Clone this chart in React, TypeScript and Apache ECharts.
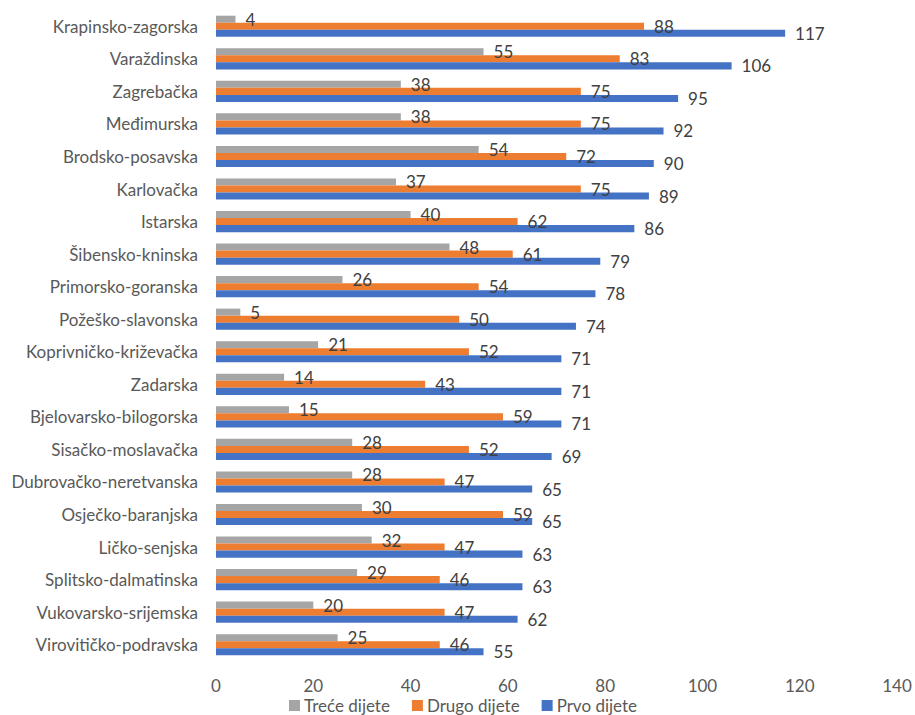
import React, { useEffect, useRef } from "react";
import * as echarts from "echarts";

const categories = [
  "Krapinsko-zagorska",
  "Varaždinska",
  "Zagrebačka",
  "Međimurska",
  "Brodsko-posavska",
  "Karlovačka",
  "Istarska",
  "Šibensko-kninska",
  "Primorsko-goranska",
  "Požeško-slavonska",
  "Koprivničko-križevačka",
  "Zadarska",
  "Bjelovarsko-bilogorska",
  "Sisačko-moslavačka",
  "Dubrovačko-neretvanska",
  "Osječko-baranjska",
  "Ličko-senjska",
  "Splitsko-dalmatinska",
  "Vukovarsko-srijemska",
  "Virovitičko-podravska",
];

const treceDijete = [4, 55, 38, 38, 54, 37, 40, 48, 26, 5, 21, 14, 15, 28, 28, 30, 32, 29, 20, 25];
const drugoDijete = [88, 83, 75, 75, 72, 75, 62, 61, 54, 50, 52, 43, 59, 52, 47, 59, 47, 46, 47, 46];
const prvoDijete = [117, 106, 95, 92, 90, 89, 86, 79, 78, 74, 71, 71, 71, 69, 65, 65, 63, 63, 62, 55];

const seriesNames = ["Treće dijete", "Drugo dijete", "Prvo dijete"];
const seriesColors = ["#A5A5A5", "#ED7D31", "#4472C4"];
const xTicks = { min: 0, max: 140, interval: 20 };

const FONT = "Lato";
const FS = 17;

export default function App() {
  const ref = useRef<HTMLDivElement>(null);
  useEffect(() => {
    if (!ref.current) return;
    const chart = echarts.init(ref.current, undefined, { renderer: "svg" });
    const datasets = [treceDijete, drugoDijete, prvoDijete];
    chart.setOption({
      animation: false,
      textStyle: { fontFamily: FONT },
      grid: { left: 216, right: 18, top: 10, bottom: 54, containLabel: false },
      legend: {
        top: 697,
        left: 289,
        padding: 0,
        itemWidth: 11,
        itemHeight: 11,
        itemGap: 22,
        icon: "rect",
        textStyle: {
          fontFamily: FONT,
          fontSize: FS,
          lineHeight: 17,
          color: "#595959",
          padding: [0, 0, 0, -1],
        },
        data: seriesNames,
      },
      xAxis: {
        type: "value",
        min: xTicks.min,
        max: xTicks.max,
        interval: xTicks.interval,
        axisLine: { show: false },
        axisTick: { show: false },
        splitLine: { show: false },
        axisLabel: { fontFamily: FONT, fontSize: FS, lineHeight: 16, color: "#595959", margin: 16 },
      },
      yAxis: {
        type: "category",
        inverse: true,
        data: categories,
        axisLine: { show: false },
        axisTick: { show: false },
        axisLabel: { fontFamily: FONT, fontSize: FS, color: "#595959", margin: 18 },
      },
      series: datasets.map((d, i) => ({
        name: seriesNames[i],
        type: "bar",
        data: d,
        barGap: "0%",
        barCategoryGap: "35%",
        itemStyle: { color: seriesColors[i] },
        label: {
          show: true,
          position: "right",
          distance: 10,
          fontFamily: FONT,
          fontSize: FS,
          color: "#404040",
        },
      })),
    });
    return () => chart.dispose();
  }, []);
  return (
    <div
      ref={ref}
      style={{ position: "fixed", left: 0, top: 0, width: 915, height: 715, background: "#fff" }}
    />
  );
}
